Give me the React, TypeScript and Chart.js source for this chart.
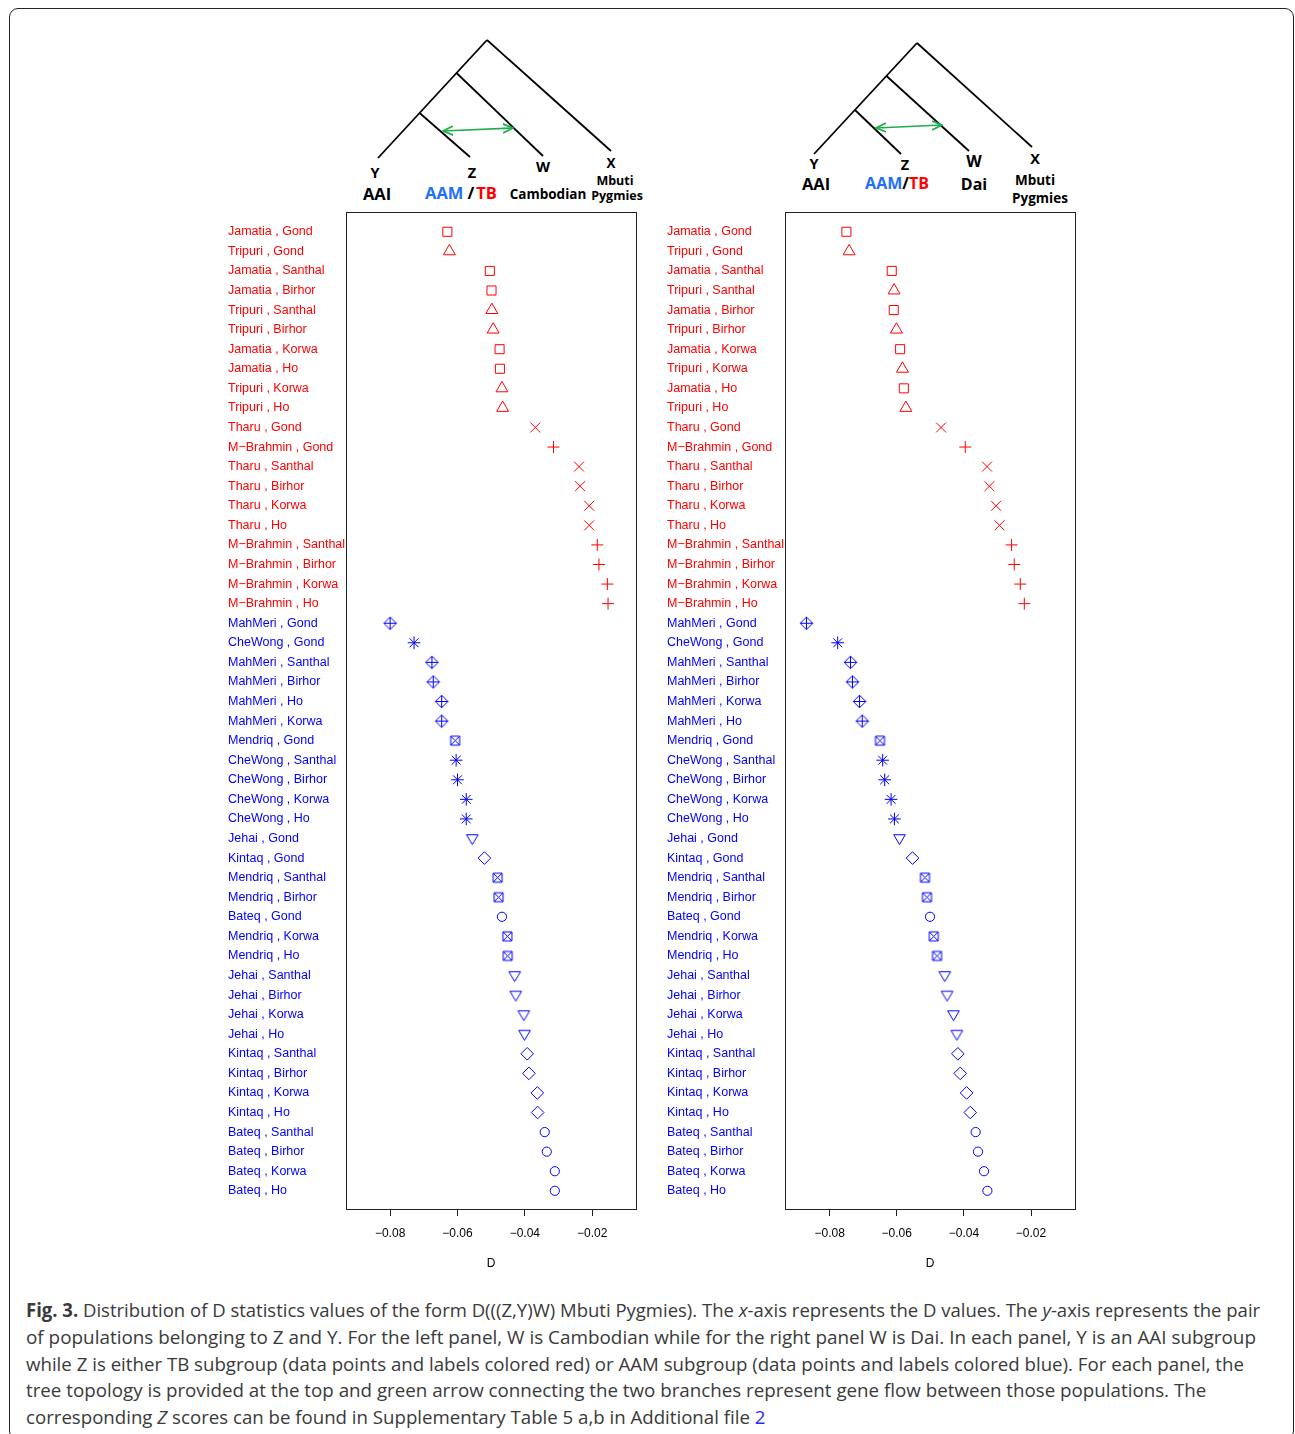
import React, { useEffect, useLayoutEffect, useRef } from 'react';
import { Chart, registerables } from 'chart.js';

Chart.register(...registerables);

// ---------------- DATA ----------------
const xTickValues = [-0.08, -0.06, -0.04, -0.02];

const leftZ = [
  'Jamatia', 'Tripuri', 'Jamatia', 'Jamatia', 'Tripuri', 'Tripuri', 'Jamatia', 'Jamatia', 'Tripuri', 'Tripuri',
  'Tharu', 'M−Brahmin', 'Tharu', 'Tharu', 'Tharu', 'Tharu', 'M−Brahmin', 'M−Brahmin', 'M−Brahmin', 'M−Brahmin',
  'MahMeri', 'CheWong', 'MahMeri', 'MahMeri', 'MahMeri', 'MahMeri', 'Mendriq', 'CheWong', 'CheWong', 'CheWong',
  'CheWong', 'Jehai', 'Kintaq', 'Mendriq', 'Mendriq', 'Bateq', 'Mendriq', 'Mendriq', 'Jehai', 'Jehai',
  'Jehai', 'Jehai', 'Kintaq', 'Kintaq', 'Kintaq', 'Kintaq', 'Bateq', 'Bateq', 'Bateq', 'Bateq',
];
const leftY = [
  'Gond', 'Gond', 'Santhal', 'Birhor', 'Santhal', 'Birhor', 'Korwa', 'Ho', 'Korwa', 'Ho',
  'Gond', 'Gond', 'Santhal', 'Birhor', 'Korwa', 'Ho', 'Santhal', 'Birhor', 'Korwa', 'Ho',
  'Gond', 'Gond', 'Santhal', 'Birhor', 'Ho', 'Korwa', 'Gond', 'Santhal', 'Birhor', 'Korwa',
  'Ho', 'Gond', 'Gond', 'Santhal', 'Birhor', 'Gond', 'Korwa', 'Ho', 'Santhal', 'Birhor',
  'Korwa', 'Ho', 'Santhal', 'Birhor', 'Korwa', 'Ho', 'Santhal', 'Birhor', 'Korwa', 'Ho',
];
const leftD = [
  -0.0630, -0.0624, -0.0504, -0.0499, -0.0498, -0.0494, -0.0475, -0.0474, -0.0468, -0.0466,
  -0.0369, -0.0315, -0.0239, -0.0236, -0.0209, -0.0209, -0.0185, -0.0180, -0.0155, -0.0153,
  -0.0800, -0.0729, -0.0676, -0.0672, -0.0647, -0.0647, -0.0607, -0.0604, -0.0600, -0.0574,
  -0.0574, -0.0556, -0.0520, -0.0481, -0.0478, -0.0468, -0.0452, -0.0451, -0.0430, -0.0427,
  -0.0403, -0.0401, -0.0393, -0.0388, -0.0363, -0.0362, -0.0341, -0.0335, -0.0311, -0.0311,
];

const rightZ = [
  'Jamatia', 'Tripuri', 'Jamatia', 'Tripuri', 'Jamatia', 'Tripuri', 'Jamatia', 'Tripuri', 'Jamatia', 'Tripuri',
  'Tharu', 'M−Brahmin', 'Tharu', 'Tharu', 'Tharu', 'Tharu', 'M−Brahmin', 'M−Brahmin', 'M−Brahmin', 'M−Brahmin',
  'MahMeri', 'CheWong', 'MahMeri', 'MahMeri', 'MahMeri', 'MahMeri', 'Mendriq', 'CheWong', 'CheWong', 'CheWong',
  'CheWong', 'Jehai', 'Kintaq', 'Mendriq', 'Mendriq', 'Bateq', 'Mendriq', 'Mendriq', 'Jehai', 'Jehai',
  'Jehai', 'Jehai', 'Kintaq', 'Kintaq', 'Kintaq', 'Kintaq', 'Bateq', 'Bateq', 'Bateq', 'Bateq',
];
const rightY = [
  'Gond', 'Gond', 'Santhal', 'Santhal', 'Birhor', 'Birhor', 'Korwa', 'Korwa', 'Ho', 'Ho',
  'Gond', 'Gond', 'Santhal', 'Birhor', 'Korwa', 'Ho', 'Santhal', 'Birhor', 'Korwa', 'Ho',
  'Gond', 'Gond', 'Santhal', 'Birhor', 'Korwa', 'Ho', 'Gond', 'Santhal', 'Birhor', 'Korwa',
  'Ho', 'Gond', 'Gond', 'Santhal', 'Birhor', 'Gond', 'Korwa', 'Ho', 'Santhal', 'Birhor',
  'Korwa', 'Ho', 'Santhal', 'Birhor', 'Korwa', 'Ho', 'Santhal', 'Birhor', 'Korwa', 'Ho',
];
const rightD = [
  -0.0750, -0.0742, -0.0615, -0.0608, -0.0609, -0.0601, -0.0590, -0.0583, -0.0579, -0.0573,
  -0.0468, -0.0396, -0.0331, -0.0324, -0.0304, -0.0294, -0.0258, -0.0250, -0.0232, -0.0220,
  -0.0869, -0.0776, -0.0738, -0.0732, -0.0711, -0.0703, -0.0650, -0.0642, -0.0636, -0.0617,
  -0.0607, -0.0592, -0.0553, -0.0516, -0.0510, -0.0501, -0.0490, -0.0480, -0.0457, -0.0450,
  -0.0431, -0.0421, -0.0418, -0.0411, -0.0392, -0.0381, -0.0365, -0.0358, -0.0340, -0.0330,
];

const tbGroups = ['Jamatia', 'Tripuri', 'Tharu', 'M−Brahmin'];

// ---------------- STYLE ----------------
const RED = '#ff0000';
const BLUE = '#0000ff';

type Marker = { style: any; radius: number };

function makeCanvas(draw: (ctx: CanvasRenderingContext2D) => void, color: string) {
  const c = document.createElement('canvas');
  c.width = 17;
  c.height = 17;
  const ctx = c.getContext('2d')!;
  ctx.strokeStyle = color;
  ctx.lineWidth = 1;
  draw(ctx);
  return c;
}

function markerFor(z: string): Marker {
  const color = tbGroups.includes(z) ? RED : BLUE;
  switch (z) {
    case 'Jamatia': return { style: 'rect', radius: 6.4 };
    case 'Tripuri': return { style: 'triangle', radius: 6.9 };
    case 'Tharu': return { style: 'crossRot', radius: 7 };
    case 'M−Brahmin': return { style: 'cross', radius: 6 };
    case 'CheWong': return { style: 'star', radius: 6.3 };
    case 'Kintaq': return { style: 'rectRot', radius: 6.3 };
    case 'Bateq': return { style: 'circle', radius: 4.6 };
    case 'MahMeri':
      return {
        radius: 6,
        style: makeCanvas((ctx) => {
          const c = 8.5, r = 6.3;
          ctx.beginPath();
          ctx.moveTo(c, c - r); ctx.lineTo(c + r, c); ctx.lineTo(c, c + r); ctx.lineTo(c - r, c); ctx.closePath();
          ctx.moveTo(c, c - r); ctx.lineTo(c, c + r);
          ctx.moveTo(c - r, c); ctx.lineTo(c + r, c);
          ctx.stroke();
        }, color),
      };
    case 'Mendriq':
      return {
        radius: 6,
        style: makeCanvas((ctx) => {
          const c = 8.5, h = 4.5;
          ctx.beginPath();
          ctx.rect(c - h, c - h, 2 * h, 2 * h);
          ctx.moveTo(c - h, c - h); ctx.lineTo(c + h, c + h);
          ctx.moveTo(c + h, c - h); ctx.lineTo(c - h, c + h);
          ctx.stroke();
        }, color),
      };
    case 'Jehai':
    default:
      return {
        radius: 6,
        style: makeCanvas((ctx) => {
          const c = 8.5;
          ctx.beginPath();
          ctx.moveTo(c - 5.8, c - 3.8); ctx.lineTo(c + 5.8, c - 3.8); ctx.lineTo(c, c + 6); ctx.closePath();
          ctx.stroke();
        }, color),
      };
  }
}

const fmt = (v: number) => (v < 0 ? '−' : '') + Math.abs(v).toFixed(2);

const boxPlugin = {
  id: 'rbox',
  afterDraw(chart: any) {
    const { ctx, chartArea: a } = chart;
    ctx.save();
    ctx.strokeStyle = '#222';
    ctx.lineWidth = 1;
    ctx.strokeRect(Math.round(a.left) + 0.5, Math.round(a.top) + 0.5, Math.round(a.right - a.left), Math.round(a.bottom - a.top));
    ctx.restore();
  },
};

type PanelProps = {
  zs: string[]; ys: string[]; ds: number[];
  xMin: number; xMax: number;
  left: number; padLeft: number; padRight: number;
};

function Panel({ zs, ys, ds, xMin, xMax, left, padLeft, padRight }: PanelProps) {
  const ref = useRef<HTMLCanvasElement | null>(null);
  useEffect(() => {
    const labels = zs.map((z, i) => `${z} , ${ys[i]}`);
    const colors = zs.map((z) => (tbGroups.includes(z) ? RED : BLUE));
    const markers = zs.map((z) => markerFor(z));
    const chart = new Chart(ref.current!, {
      type: 'scatter',
      data: {
        datasets: [{
          data: ds.map((d, i) => ({ x: d, y: i + 1 })),
          pointStyle: markers.map((m) => m.style),
          pointRadius: markers.map((m) => m.radius),
          pointBorderColor: colors,
          pointBackgroundColor: 'rgba(0,0,0,0)',
          pointBorderWidth: 1,
          showLine: false,
        } as any],
      },
      options: {
        animation: false,
        responsive: false,
        events: [],
        layout: { padding: { left: padLeft, right: padRight, top: 12, bottom: 11 } },
        plugins: { legend: { display: false }, tooltip: { enabled: false } },
        scales: {
          x: {
            type: 'linear',
            min: xMin,
            max: xMax,
            afterBuildTicks: (s: any) => { s.ticks = xTickValues.map((v) => ({ value: v })); },
            afterFit: (s: any) => { s.height = 70; },
            grid: { display: true, drawOnChartArea: false, drawTicks: true, tickLength: 7, color: '#222', lineWidth: 1 },
            border: { display: false },
            ticks: {
              color: '#000',
              font: { family: '"Liberation Sans", Arial, sans-serif', size: 12 },
              padding: 10,
              maxRotation: 0,
              autoSkip: false,
              callback: (v: any) => fmt(Number(v)),
            },
            title: {
              display: true,
              text: 'D',
              color: '#000',
              font: { family: '"Liberation Sans", Arial, sans-serif', size: 12 },
              padding: { top: 0, bottom: 8 },
            },
          },
          y: {
            type: 'linear',
            reverse: true,
            min: -0.01,
            max: 50.93,
            afterBuildTicks: (s: any) => { s.ticks = labels.map((_, i) => ({ value: i + 1 })); },
            afterFit: (s: any) => { s.width = 118; },
            grid: { display: false },
            border: { display: false },
            ticks: {
              autoSkip: false,
              crossAlign: 'far',
              padding: 0,
              font: { family: '"Liberation Sans", Arial, sans-serif', size: 12.5 },
              color: (ctx: any) => colors[Math.round(ctx.tick.value) - 1] || '#000',
              callback: (v: any) => labels[Math.round(Number(v)) - 1] ?? '',
            },
          },
        },
      } as any,
      plugins: [boxPlugin],
    });
    return () => chart.destroy();
  }, []);
  return (
    <canvas
      ref={ref}
      width={430}
      height={1090}
      style={{ position: 'absolute', left, top: 200, width: 430, height: 1090 }}
    />
  );
}

const treeFont = '"Open Sans", "Noto Sans", sans-serif';

function T({ x, y, size, children, fill = '#000' }: any) {
  return (
    <text x={x} y={y} fontSize={size} fontWeight={700} fill={fill} textAnchor="middle" dominantBaseline="central" fontFamily={treeFont}>
      {children}
    </text>
  );
}

function Trees() {
  const line = { stroke: '#000', strokeWidth: 1.8, fill: 'none' };
  const green = '#1fae4f';
  return (
    <svg width={1295} height={210} style={{ position: 'absolute', left: 0, top: 0 }}>
      <defs>
        <marker id="ah" viewBox="0 0 10 10" refX="9" refY="5" markerWidth="7" markerHeight="7" orient="auto-start-reverse">
          <path d="M0,1 L9,5 L0,9" fill="none" stroke={green} strokeWidth="1.6" />
        </marker>
      </defs>
      {/* left tree */}
      <line x1={487} y1={40} x2={611} y2={151} {...line} />
      <line x1={487} y1={40} x2={378} y2={158} {...line} />
      <line x1={456.5} y1={73} x2={543} y2={156} {...line} />
      <line x1={419.6} y1={113} x2={470} y2={157} {...line} />
      <line x1={443} y1={131} x2={513} y2={128} stroke={green} strokeWidth={1.6} markerStart="url(#ah)" markerEnd="url(#ah)" />
      <T x={375} y={172} size={14.5}>Y</T>
      <T x={377} y={193} size={16.5}>AAI</T>
      <T x={472} y={172} size={14.5}>Z</T>
      <text x={461} y={192} fontSize={16.5} fontWeight={700} textAnchor="middle" dominantBaseline="central" fontFamily={treeFont}>
        <tspan fill="#1f6fff">AAM</tspan><tspan fill="#000" dx={4}>/</tspan><tspan fill="#ff0000" dx={2}>TB</tspan>
      </text>
      <T x={543} y={166} size={14.5}>W</T>
      <T x={548} y={194} size={13.5}>Cambodian</T>
      <T x={611} y={163} size={13.5}>X</T>
      <T x={615} y={180} size={12.5}>Mbuti</T>
      <T x={617} y={195} size={12.5}>Pygmies</T>
      {/* right tree */}
      <line x1={917} y1={43} x2={1032} y2={147} {...line} />
      <line x1={917} y1={43} x2={814} y2={154} {...line} />
      <line x1={886.5} y1={76} x2={969} y2={151} {...line} />
      <line x1={855} y1={110} x2={901} y2={154} {...line} />
      <line x1={876} y1={128} x2={942} y2={125} stroke={green} strokeWidth={1.6} markerStart="url(#ah)" markerEnd="url(#ah)" />
      <T x={814} y={163} size={14.5}>Y</T>
      <T x={816} y={183} size={16.5}>AAI</T>
      <T x={905} y={164} size={14.5}>Z</T>
      <text x={897} y={183} fontSize={16} fontWeight={700} textAnchor="middle" dominantBaseline="central" fontFamily={treeFont}>
        <tspan fill="#1f6fff">AAM</tspan><tspan fill="#000">/</tspan><tspan fill="#ff0000">TB</tspan>
      </text>
      <T x={974} y={161} size={16}>W</T>
      <T x={974} y={184} size={16}>Dai</T>
      <T x={1035} y={158} size={14.5}>X</T>
      <T x={1035} y={180} size={13.5}>Mbuti</T>
      <T x={1040} y={198} size={13.5}>Pygmies</T>
    </svg>
  );
}

const captionTargets = [1234, 1230, 1218, 1180, 739];
const captionTops = [1297, 1324, 1351, 1377, 1404];

function Caption() {
  const refs = useRef<(HTMLSpanElement | null)[]>([]);
  useLayoutEffect(() => {
    const fit = () => {
      refs.current.forEach((el, i) => {
        if (!el) return;
        const w = el.offsetWidth;
        if (w > 0) el.style.transform = `scaleX(${captionTargets[i] / w})`;
      });
    };
    fit();
    if ((document as any).fonts?.ready) (document as any).fonts.ready.then(fit);
  }, []);
  const lines: React.ReactNode[] = [
    <><b>Fig. 3.</b> Distribution of D statistics values of the form D(((Z,Y)W) Mbuti Pygmies). The <i>x</i>-axis represents the D values. The <i>y</i>-axis represents the pair</>,
    <>of populations belonging to Z and Y. For the left panel, W is Cambodian while for the right panel W is Dai. In each panel, Y is an AAI subgroup</>,
    <>while Z is either TB subgroup (data points and labels colored red) or AAM subgroup (data points and labels colored blue). For each panel, the</>,
    <>tree topology is provided at the top and green arrow connecting the two branches represent gene flow between those populations. The</>,
    <>corresponding <i>Z</i> scores can be found in Supplementary Table 5 a,b in Additional file <span style={{ color: '#2a2af0' }}>2</span></>,
  ];
  return (
    <>
      {lines.map((l, i) => (
        <span
          key={i}
          ref={(el) => { refs.current[i] = el; }}
          style={{
            position: 'absolute', left: 26, top: captionTops[i], whiteSpace: 'nowrap',
            fontFamily: '"Open Sans", "Noto Sans", sans-serif', fontSize: 19, lineHeight: '26px',
            color: '#3a3a3a', transformOrigin: 'left center', display: 'inline-block',
          }}
        >
          {l}
        </span>
      ))}
    </>
  );
}

export default function App() {
  return (
    <div style={{ position: 'absolute', left: 0, top: 0, width: 1295, height: 1434, overflow: 'hidden', background: '#fff' }}>
      <div style={{
        position: 'absolute', left: 9, top: 8, width: 1285, height: 1432, boxSizing: 'border-box',
        border: '1.5px solid #222', borderRadius: 9,
      }} />
      <Trees />
      <Panel zs={leftZ} ys={leftY} ds={leftD} xMin={-0.0931} xMax={-0.0070} left={220} padLeft={8} padRight={14} />
      <Panel zs={rightZ} ys={rightY} ds={rightD} xMin={-0.0933} xMax={-0.0069} left={660} padLeft={7} padRight={15} />
      <Caption />
    </div>
  );
}
